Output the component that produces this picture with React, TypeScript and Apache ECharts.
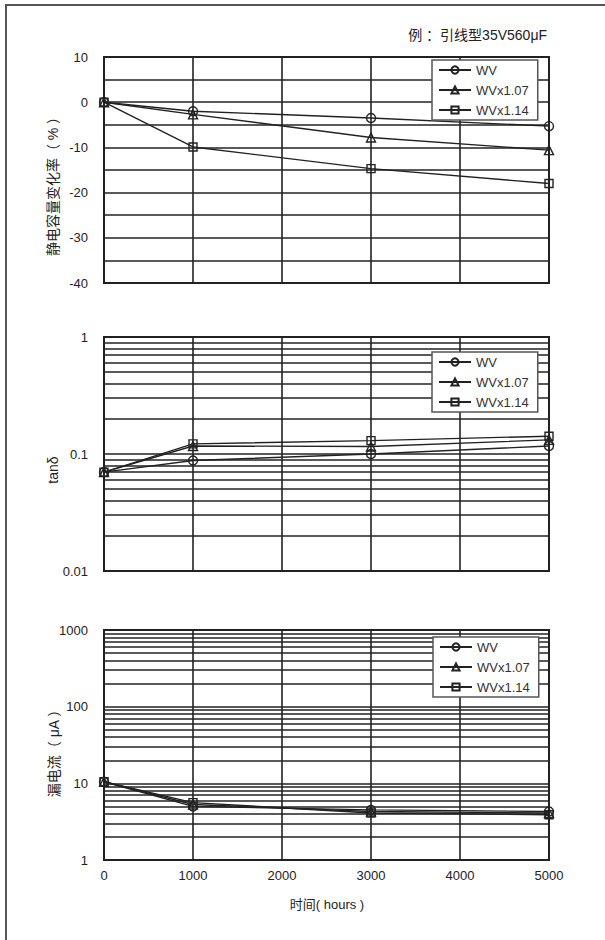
import React, { useEffect, useRef } from "react";
import * as echarts from "echarts";

const hours = [0, 1000, 3000, 5000];
const seriesNames = ["WV", "WVx1.07", "WVx1.14"];
const symbols = ["circle", "triangle", "rect"];

const capWV = [0, -2, -3.5, -5.3];
const capWV107 = [0, -2.7, -7.8, -10.6];
const capWV114 = [0, -9.9, -14.7, -18];

const tanWV = [0.07, 0.088, 0.1, 0.117];
const tanWV107 = [0.07, 0.117, 0.116, 0.132];
const tanWV114 = [0.07, 0.122, 0.13, 0.142];

const lcWV = [10.5, 5.0, 4.5, 4.3];
const lcWV107 = [10.5, 5.3, 4.3, 4.1];
const lcWV114 = [10.5, 5.6, 4.1, 3.9];

const xTicks = [0, 1000, 2000, 3000, 4000, 5000];
const minorTan = [0.02, 0.03, 0.04, 0.05, 0.06, 0.07, 0.08, 0.09, 0.2, 0.3, 0.4, 0.5, 0.6, 0.7, 0.8, 0.9];
const minorLc = [2, 3, 4, 5, 6, 7, 8, 9, 20, 30, 40, 50, 60, 70, 80, 90, 200, 300, 400, 500, 600, 700, 800, 900];

const titleText = "例 ：引线型35V560μF";
const yName1 = "静电容量变化率（ % ）";
const yName2 = "tanδ";
const yName3 = "漏电流（ μA ）";
const xName = "时间( hours )";

const FONT = "'Liberation Sans', Arial, 'Noto Sans CJK SC', sans-serif";
const INK = "#222";

export default function App() {
  const ref = useRef<HTMLDivElement>(null);

  useEffect(() => {
    if (!ref.current) return;
    const chart = echarts.init(ref.current, undefined, { renderer: "svg" });

    const grids = [
      { left: 104, top: 57, width: 445, height: 226 },
      { left: 104, top: 337, width: 445, height: 234 },
      { left: 104, top: 630, width: 445, height: 230 },
    ].map((g) => ({ ...g, show: true, borderColor: INK, borderWidth: 2, backgroundColor: "transparent" }));

    const plain = (v: number) => String(v);

    const xAxes = [0, 1, 2].map((i) => ({
      type: "value",
      gridIndex: i,
      min: xTicks[0],
      max: xTicks[xTicks.length - 1],
      interval: 1000,
      axisLine: { show: false },
      axisTick: { show: false },
      axisLabel: {
        show: i === 2,
        color: INK,
        fontSize: 13,
        fontFamily: FONT,
        margin: 9,
        formatter: plain,
      },
      splitLine: { show: true, lineStyle: { color: INK, width: 1.6 } },
    }));

    const baseY = {
      axisLine: { show: false },
      axisTick: { show: false },
      axisLabel: { color: INK, fontSize: 13, fontFamily: FONT, margin: 16, formatter: plain },
      splitLine: { show: true, lineStyle: { color: INK, width: 1.6 } },
    };

    const yAxes = [
      {
        ...baseY,
        type: "value",
        gridIndex: 0,
        min: -40,
        max: 10,
        interval: 5,
        axisLabel: {
          ...baseY.axisLabel,
          formatter: (v: number) => (v % 10 === 0 ? String(v) : ""),
        },
      },
      { ...baseY, type: "log", logBase: 10, gridIndex: 1, min: 0.01, max: 1 },
      { ...baseY, type: "log", logBase: 10, gridIndex: 2, min: 1, max: 1000 },
    ];

    const groups = [
      [capWV, capWV107, capWV114],
      [tanWV, tanWV107, tanWV114],
      [lcWV, lcWV107, lcWV114],
    ];

    const series: any[] = [];
    groups.forEach((grp, gi) => {
      grp.forEach((vals, si) => {
        series.push({
          name: seriesNames[si],
          type: "line",
          xAxisIndex: gi,
          yAxisIndex: gi,
          data: hours.map((h, k) => [h, vals[k]]),
          symbol: symbols[si],
          symbolSize: si === 2 ? 8 : 9,
          showSymbol: true,
          z: 3,
          lineStyle: { color: INK, width: 1.4 },
          itemStyle: { color: "rgba(0,0,0,0)", borderColor: INK, borderWidth: 1.4 },
        });
      });
    });

    const minorGrid = (idx: number, vals: number[]) => ({
      name: "_minor" + idx,
      type: "line",
      xAxisIndex: idx,
      yAxisIndex: idx,
      data: [],
      z: 1,
      silent: true,
      markLine: {
        silent: true,
        z: 1,
        symbol: ["none", "none"],
        label: { show: false },
        lineStyle: { color: INK, width: 1.6, type: "solid" },
        data: vals.map((v) => ({ yAxis: v })),
      },
    });
    series.push(minorGrid(1, minorTan));
    series.push(minorGrid(2, minorLc));

    const legendBase = {
      orient: "vertical",
      data: seriesNames,
      z: 10,
      itemWidth: 32,
      itemHeight: 9,
      itemGap: 6,
      padding: [3, 9, 3, 6],
      backgroundColor: "#fff",
      borderColor: "#555",
      borderWidth: 1.5,
      borderRadius: 0,
      selectedMode: false,
      textStyle: { color: "#333", fontSize: 13, fontFamily: FONT, lineHeight: 14 },
    };

    const nameStyle = { fill: INK, fontSize: 13, fontFamily: FONT };

    chart.setOption({
      animation: false,
      grid: grids,
      xAxis: xAxes,
      yAxis: yAxes,
      series,
      legend: [
        { ...legendBase, left: 432, top: 60 },
        { ...legendBase, left: 432, top: 352 },
        { ...legendBase, left: 433, top: 637 },
      ],
      graphic: [
        {
          type: "rect",
          shape: { x: 6, y: 5, width: 800, height: 1000 },
          style: { fill: "none", stroke: "#555", lineWidth: 2 },
          silent: true,
        },
        {
          type: "text",
          x: 547,
          y: 35,
          style: { ...nameStyle, fontSize: 14, text: titleText, textAlign: "right", textVerticalAlign: "middle" },
        },
        {
          type: "text",
          x: 53,
          y: 183,
          rotation: Math.PI / 2,
          style: { ...nameStyle, fontSize: 14, text: yName1, textAlign: "center", textVerticalAlign: "middle" },
        },
        {
          type: "text",
          x: 53,
          y: 470,
          rotation: Math.PI / 2,
          style: { ...nameStyle, fontSize: 14, text: yName2, textAlign: "center", textVerticalAlign: "middle" },
        },
        {
          type: "text",
          x: 54,
          y: 750,
          rotation: Math.PI / 2,
          style: { ...nameStyle, fontSize: 14, text: yName3, textAlign: "center", textVerticalAlign: "middle" },
        },
        {
          type: "text",
          x: 327,
          y: 904,
          style: { ...nameStyle, text: xName, textAlign: "center", textVerticalAlign: "middle" },
        },
      ],
    });

    return () => chart.dispose();
  }, []);

  return (
    <div
      ref={ref}
      style={{ position: "absolute", left: 0, top: 0, width: 605, height: 940, background: "#fff" }}
    />
  );
}
